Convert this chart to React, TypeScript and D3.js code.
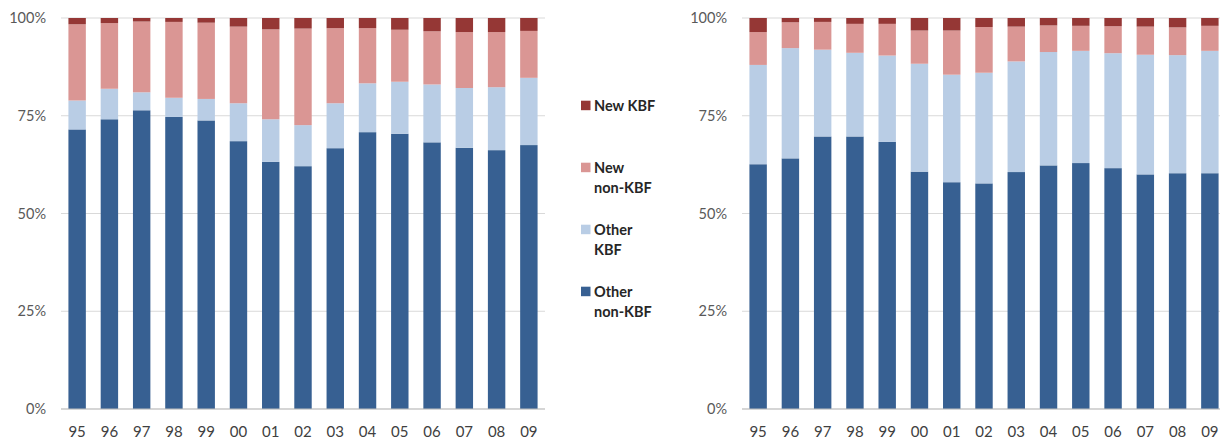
import React from "react";
import * as d3 from "d3";

const years = ["95","96","97","98","99","00","01","02","03","04","05","06","07","08","09"];
const seriesKeys = ["otherNonKBF","otherKBF","newNonKBF","newKBF"];
const seriesLabels = [["Other","non-KBF"],["Other","KBF"],["New","non-KBF"],["New KBF"]];
const seriesColors = ["#376092","#B9CDE5","#DA9694","#953735"];

const leftOtherNonKBF = [71.5,74.1,76.4,74.7,73.8,68.5,63.2,62.1,66.7,70.8,70.4,68.2,66.8,66.2,67.5];
const leftOtherKBF = [7.4,7.8,4.6,4.9,5.5,9.7,10.9,10.5,11.5,12.5,13.3,14.8,15.3,16.1,17.2];
const leftNewNonKBF = [19.5,16.8,18.1,19.4,19.5,19.6,23.0,24.7,19.2,14.1,13.3,13.6,14.3,14.1,12.0];
const leftNewKBF = [1.6,1.3,0.9,1.0,1.2,2.2,2.9,2.7,2.6,2.6,3.0,3.4,3.6,3.6,3.3];

const rightOtherNonKBF = [62.6,64.1,69.7,69.7,68.3,60.7,58.0,57.7,60.6,62.3,62.9,61.6,60.0,60.3,60.3];
const rightOtherKBF = [25.4,28.2,22.2,21.4,22.1,27.6,27.5,28.3,28.3,29.0,28.7,29.4,30.6,30.2,31.3];
const rightNewNonKBF = [8.4,6.6,7.1,7.4,8.1,8.5,11.3,11.7,8.9,6.8,6.4,6.9,7.2,7.1,6.4];
const rightNewKBF = [3.6,1.1,1.0,1.5,1.5,3.2,3.2,2.3,2.2,1.9,2.0,2.1,2.2,2.4,2.0];

const yTicks = [0,25,50,75,100];

function buildRows(a: number[], b: number[], c: number[], d: number[]) {
  return years.map((y, i) => ({ year: y, otherNonKBF: a[i], otherKBF: b[i], newNonKBF: c[i], newKBF: d[i] }));
}

const FONT = "Lato, 'Open Sans', sans-serif";

function Panel({ rows, x0, x1, y0, y1 }: { rows: any[]; x0: number; x1: number; y0: number; y1: number }) {
  const x = d3.scaleBand<string>().domain(years).range([x0, x1]).paddingInner(0.46).paddingOuter(0.23);
  const y = d3.scaleLinear().domain([0, 100]).range([y1, y0]);
  const stacked = d3.stack<any>().keys(seriesKeys).offset(d3.stackOffsetExpand)(rows);
  return (
    <g>
      {yTicks.map(t => (
        <g key={t}>
          <line x1={x0} x2={x1} y1={y(t)} y2={y(t)} stroke="#D9D9D9" strokeWidth={1} />
          <text x={x0 - 15} y={y(t)} dy="0.35em" textAnchor="end" fontSize={14.5} fill="#595959" fontFamily={FONT}>{t}%</text>
        </g>
      ))}
      {stacked.map((s, si) => (
        <g key={s.key} fill={seriesColors[si]}>
          {s.map((d: any, i: number) => (
            <rect key={i} x={x(years[i])} width={x.bandwidth()} y={y(d[1] * 100)} height={y(d[0] * 100) - y(d[1] * 100)} />
          ))}
        </g>
      ))}
      <line x1={x0} x2={x1} y1={y(0)} y2={y(0)} stroke="#BFBFBF" strokeWidth={1} />
      {years.map(yr => (
        <text key={yr} x={(x(yr) as number) + x.bandwidth() / 2} y={432} dy="0.35em" textAnchor="middle" fontSize={15} fill="#404040" fontFamily={FONT}>{yr}</text>
      ))}
    </g>
  );
}

export default function App() {
  const left = buildRows(leftOtherNonKBF, leftOtherKBF, leftNewNonKBF, leftNewKBF);
  const right = buildRows(rightOtherNonKBF, rightOtherKBF, rightNewNonKBF, rightNewKBF);
  const legendOrder = [3, 2, 1, 0];
  return (
    <svg width={1220} height={439} style={{ position: "absolute", left: 0, top: 0, background: "#fff" }}>
      <rect width={1220} height={439} fill="#fff" />
      <Panel rows={left} x0={61} x1={545} y0={18} y1={409} />
      <Panel rows={right} x0={742} x1={1226} y0={18} y1={409} />
      {legendOrder.map((si, k) => {
        const cy = 105.7 + k * 62;
        const lines = seriesLabels[si];
        return (
          <g key={si}>
            <rect x={581} y={cy - 5} width={9.5} height={9.5} fill={seriesColors[si]} />
            {lines.map((ln, li) => (
              <text key={li} x={594} y={cy + li * 20.6} dy="0.35em" fontSize={14.5} fontWeight="bold" fill="#262626" fontFamily={FONT}>{ln}</text>
            ))}
          </g>
        );
      })}
    </svg>
  );
}
